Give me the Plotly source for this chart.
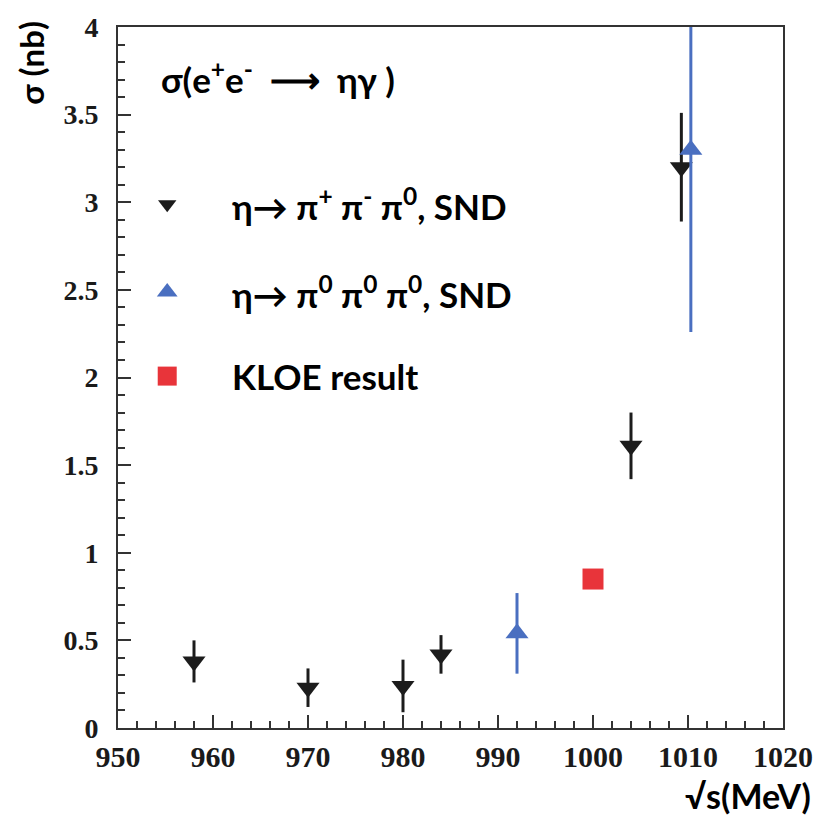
import plotly.graph_objects as go

# SND, eta -> pi+ pi- pi0 (black, down triangles)
snd_charged_E = [958.0, 970.0, 980.0, 984.0, 1004.0, 1009.3]
snd_charged_sigma = [0.38, 0.23, 0.24, 0.42, 1.61, 3.20]
snd_charged_err = [0.12, 0.11, 0.15, 0.11, 0.19, 0.31]

# SND, eta -> 3 pi0 (blue, up triangles)
snd_neutral_E = [992.0, 1010.3]
snd_neutral_sigma = [0.54, 3.30]
snd_neutral_err = [0.23, 1.04]

# KLOE
kloe_E = [1000.0]
kloe_sigma = [0.85]

legend_labels = [
    "η→ π<sup>+</sup> π<sup>-</sup> π<sup>0</sup>, SND",
    "η→ π<sup>0</sup> π<sup>0</sup> π<sup>0</sup>, SND",
    "KLOE result",
]
title_text = "σ(e<sup>+</sup>e<sup>-</sup>  ⟶  ηγ )"

BLACK = "#1c1c1c"
BLUE = "#4a6fc0"
RED = "#e8343a"
TXT_FONT = "Lato"
TICK_FONT = "Liberation Serif"

fig = go.Figure()

fig.add_trace(go.Scatter(
    x=snd_charged_E, y=snd_charged_sigma, mode="markers",
    marker=dict(symbol="triangle-down", size=20, color=BLACK),
    error_y=dict(type="data", array=snd_charged_err, visible=True,
                 thickness=3, width=0, color=BLACK),
    showlegend=False,
))
fig.add_trace(go.Scatter(
    x=snd_neutral_E, y=snd_neutral_sigma, mode="markers",
    marker=dict(symbol="triangle-up", size=20, color=BLUE),
    error_y=dict(type="data", array=snd_neutral_err, visible=True,
                 thickness=3, width=0, color=BLUE),
    showlegend=False,
))
fig.add_trace(go.Scatter(
    x=kloe_E, y=kloe_sigma, mode="markers",
    marker=dict(symbol="square", size=21, color=RED),
    showlegend=False,
))

# legend keys on a hidden unit overlay axis
key_y = [0.747, 0.622, 0.502]
key_x = 0.074
key_styles = [("triangle-down", 16, BLACK), ("triangle-up", 18, BLUE), ("square", 19, RED)]
for ky, (sym, sz, col) in zip(key_y, key_styles):
    fig.add_trace(go.Scatter(
        x=[key_x], y=[ky], mode="markers", xaxis="x2", yaxis="y2",
        marker=dict(symbol=sym, size=sz, color=col), showlegend=False,
        hoverinfo="skip",
    ))

text_font = dict(family=TXT_FONT, size=35, color="black", weight="bold")

annotations = [
    dict(text=title_text, xref="paper", yref="paper", x=0.062, y=0.929,
         xanchor="left", yanchor="middle", showarrow=False, font=text_font),
]
for ky, lab in zip(key_y, legend_labels):
    annotations.append(dict(
        text=lab, xref="paper", yref="paper", x=0.169, y=ky,
        xanchor="left", yanchor="middle", showarrow=False, font=text_font))

# axis titles (top-left rotated, bottom-right)
annotations.append(dict(
    text="σ (nb)", xref="paper", yref="paper", x=-0.132, y=1.012,
    xanchor="center", yanchor="top", textangle=-90, showarrow=False,
    font=dict(family=TXT_FONT, size=33, color="black", weight="bold")))
annotations.append(dict(
    text="√s(MeV)", xref="paper", yref="paper", x=1.045, y=-0.097,
    xanchor="right", yanchor="middle", showarrow=False,
    font=dict(family=TXT_FONT, size=34, color="black", weight="bold")))

axis_line = dict(showline=True, linecolor="#333333", linewidth=2, mirror=True,
                 showgrid=False, zeroline=False)

fig.update_layout(
    width=825, height=819,
    margin=dict(l=118, r=32, t=21, b=91),
    paper_bgcolor="white", plot_bgcolor="white",
    xaxis=dict(range=[950, 1020], dtick=10, tick0=950, ticks="inside",
               ticklen=13, tickwidth=1.5, tickcolor="#333333",
               minor=dict(dtick=2, ticks="inside", ticklen=7, tickwidth=1.5,
                          tickcolor="#333333"),
               tickfont=dict(family=TICK_FONT, size=30, color="#1a1a1a", weight="bold"),
               ticklabelstandoff=1, **axis_line),
    yaxis=dict(range=[0, 4], dtick=0.5, tick0=0, ticks="inside",
               ticklen=13, tickwidth=1.5, tickcolor="#333333",
               minor=dict(dtick=0.1, ticks="inside", ticklen=7, tickwidth=1.5,
                          tickcolor="#333333"),
               tickfont=dict(family=TICK_FONT, size=28, color="#1a1a1a", weight="bold"),
               ticklabelstandoff=12, **axis_line),
    xaxis2=dict(overlaying="x", range=[0, 1], visible=False),
    yaxis2=dict(overlaying="y", range=[0, 1], visible=False),
    annotations=annotations,
)

fig.write_html("out.html")
